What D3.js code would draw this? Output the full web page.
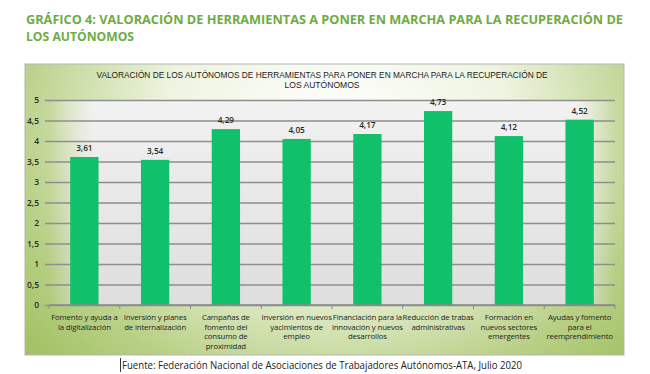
<!DOCTYPE html>
<html>
<head>
<meta charset="utf-8">
<script src="https://cdn.jsdelivr.net/npm/d3@7"></script>
<style>
  html, body { margin: 0; padding: 0; background: #fff; }
  svg { display: block; }
</style>
</head>
<body>
<div id="chart"></div>
<script>
const categories = [
  ['Fomento y ayuda a', 'la digitalización'],
  ['Inversión y planes', 'de internalización'],
  ['Campañas de', 'fomento del', 'consumo de', 'proximidad'],
  ['Inversión en nuevos', 'yacimientos de', 'empleo'],
  ['Financiación para la', 'innovación y nuevos', 'desarrollos'],
  ['Reducción de trabas', 'administrativas'],
  ['Formación en', 'nuevos sectores', 'emergentes'],
  ['Ayudas y fomento', 'para el', 'reemprendimiento']
];
const values = [3.61, 3.54, 4.29, 4.05, 4.17, 4.73, 4.12, 4.52];
const yTicks = [0, 0.5, 1, 1.5, 2, 2.5, 3, 3.5, 4, 4.5, 5];

const pageTitle = ['GRÁFICO 4: VALORACIÓN DE HERRAMIENTAS A PONER EN MARCHA PARA LA RECUPERACIÓN DE', 'LOS AUTÓNOMOS'];
const chartTitle = ['VALORACIÓN DE LOS AUTÓNOMOS DE HERRAMIENTAS PARA PONER EN MARCHA PARA LA RECUPERACIÓN DE', 'LOS AUTÓNOMOS'];
const source = 'Fuente: Federación Nacional de Asociaciones de Trabajadores Autónomos-ATA, Julio 2020';

const width = 650, height = 374;
const panel = { x: 25, y: 64, w: 599, h: 291 };
const plot = { left: 49, right: 615, top: 100, bottom: 305 };
const comma = v => String(v).replace('.', ',');

const svg = d3.select('#chart').append('svg')
  .attr('width', width)
  .attr('height', height);

const defs = svg.append('defs');

// panel background: green edges, pale centre
const panelGrad = defs.append('radialGradient')
  .attr('id', 'panelGrad')
  .attr('cx', '0.52').attr('cy', '0.22').attr('r', '0.72')
  .attr('gradientTransform', 'translate(0.52,0.22) scale(1,1.7) translate(-0.52,-0.22)');
panelGrad.append('stop').attr('offset', '0%').attr('stop-color', '#ffffff');
panelGrad.append('stop').attr('offset', '40%').attr('stop-color', '#eef4e0');
panelGrad.append('stop').attr('offset', '75%').attr('stop-color', '#b8d086');
panelGrad.append('stop').attr('offset', '100%').attr('stop-color', '#9cbe5a');

// plot area: grey fading in from the sides
const plotGrad = defs.append('linearGradient')
  .attr('id', 'plotGrad').attr('x1', 0).attr('x2', 0).attr('y1', 0).attr('y2', 1);
plotGrad.append('stop').attr('offset', '0%').attr('stop-color', '#f2f2f2');
plotGrad.append('stop').attr('offset', '100%').attr('stop-color', '#dedede');

const fadeGrad = defs.append('linearGradient')
  .attr('id', 'fadeGrad').attr('x1', 0).attr('x2', 1).attr('y1', 0).attr('y2', 0);
[[0, 0], [0.08, 1], [0.93, 1], [1, 0]].forEach(([o, a]) => {
  fadeGrad.append('stop').attr('offset', o).attr('stop-color', '#fff').attr('stop-opacity', a);
});
defs.append('mask').attr('id', 'fadeMask')
  .append('rect')
  .attr('x', plot.left).attr('y', plot.top)
  .attr('width', plot.right - plot.left).attr('height', plot.bottom - plot.top)
  .attr('fill', 'url(#fadeGrad)');

// page title
svg.append('g').selectAll('text')
  .data(pageTitle)
  .enter()
  .append('text')
  .attr('x', 26)
  .attr('y', (d, i) => 24 + i * 17)
  .attr('font-family', 'Open Sans, sans-serif')
  .attr('font-weight', 'bold')
  .attr('font-size', 13)
  .attr('fill', '#6eac43')
  .attr('textLength', (d, i) => i === 0 ? 597 : 108)
  .attr('lengthAdjust', 'spacingAndGlyphs')
  .text(d => d);

// chart panel
svg.append('rect')
  .attr('x', panel.x).attr('y', panel.y)
  .attr('width', panel.w).attr('height', panel.h)
  .attr('fill', 'url(#panelGrad)')
  .attr('stroke', '#b5b5b5')
  .attr('stroke-width', 1);

svg.append('rect')
  .attr('x', plot.left).attr('y', plot.top)
  .attr('width', plot.right - plot.left).attr('height', plot.bottom - plot.top)
  .attr('fill', 'url(#plotGrad)')
  .attr('mask', 'url(#fadeMask)');

// chart title
svg.append('g').selectAll('text')
  .data(chartTitle)
  .enter()
  .append('text')
  .attr('x', 322)
  .attr('y', (d, i) => 78 + i * 10)
  .attr('text-anchor', 'middle')
  .attr('font-family', 'Liberation Sans, Arial, sans-serif')
  .attr('font-size', 8.3)
  .attr('fill', '#1a1a1a')
  .attr('textLength', (d, i) => i === 0 ? 451 : 75)
  .attr('lengthAdjust', 'spacingAndGlyphs')
  .text(d => d);

const xScale = d3.scaleBand()
  .domain(d3.range(categories.length))
  .range([plot.left, plot.right])
  .paddingInner(0.6)
  .paddingOuter(0.3);

const yScale = d3.scaleLinear()
  .domain([0, 5])
  .range([plot.bottom, plot.top]);

// gridlines + y axis
const yAxis = d3.axisLeft(yScale)
  .tickValues(yTicks)
  .tickSize(-(plot.right - plot.left + 4))
  .tickPadding(6)
  .tickFormat(comma);

const yG = svg.append('g')
  .attr('class', 'y axis')
  .attr('transform', `translate(${plot.left - 4},0)`)
  .call(yAxis);
yG.select('.domain').remove();
yG.selectAll('.tick line')
  .attr('stroke', '#8e8e8e')
  .attr('stroke-width', 1.4);
yG.selectAll('.tick text')
  .attr('font-family', 'Open Sans, sans-serif')
  .attr('font-size', 8.5)
  .attr('font-weight', 600)
  .attr('fill', '#2a2a2a');

// bars
svg.append('g').selectAll('rect')
  .data(values)
  .enter()
  .append('rect')
  .attr('class', 'bar')
  .attr('x', (d, i) => xScale(i))
  .attr('y', d => yScale(d))
  .attr('width', xScale.bandwidth())
  .attr('height', d => yScale(0) - yScale(d))
  .attr('fill', '#11c06b');

// value labels
svg.append('g').selectAll('text')
  .data(values)
  .enter()
  .append('text')
  .attr('x', (d, i) => xScale(i) + xScale.bandwidth() / 2)
  .attr('y', d => yScale(d) - 6)
  .attr('text-anchor', 'middle')
  .attr('font-family', 'Open Sans, sans-serif')
  .attr('font-size', 8.3)
  .attr('font-weight', 600)
  .attr('fill', '#2a2a2a')
  .text(d => comma(d));

// x axis line and category separators
const sepScale = d3.scaleLinear().domain([0, categories.length]).range([plot.left, plot.right]);
const xG = svg.append('g').attr('class', 'x axis');
xG.append('line')
  .attr('x1', plot.left).attr('x2', plot.right)
  .attr('y1', plot.bottom).attr('y2', plot.bottom)
  .attr('stroke', '#8a8a8a').attr('stroke-width', 1.4);
xG.selectAll('.sep')
  .data(d3.range(categories.length + 1))
  .enter()
  .append('line')
  .attr('class', 'sep')
  .attr('x1', d => sepScale(d)).attr('x2', d => sepScale(d))
  .attr('y1', plot.bottom).attr('y2', plot.bottom + 4)
  .attr('stroke', '#8a8a8a').attr('stroke-width', 1);

// category labels
const labelG = xG.selectAll('.cat')
  .data(categories)
  .enter()
  .append('text')
  .attr('class', 'cat')
  .attr('text-anchor', 'middle')
  .attr('font-family', 'Open Sans, sans-serif')
  .attr('font-size', 7.8)
  .attr('letter-spacing', -0.15)
  .attr('fill', '#1f1f1f');
labelG.selectAll('tspan')
  .data((d, i) => d.map(line => ({ line, i })))
  .enter()
  .append('tspan')
  .attr('x', d => xScale(d.i) + xScale.bandwidth() / 2)
  .attr('y', (d, j) => plot.bottom + 15 + j * 9.7)
  .text(d => d.line);

// source
svg.append('line')
  .attr('x1', 120.5).attr('x2', 120.5)
  .attr('y1', 358).attr('y2', 372)
  .attr('stroke', '#333').attr('stroke-width', 1);
svg.append('text')
  .attr('x', 122)
  .attr('y', 369)
  .attr('font-family', 'Open Sans, sans-serif')
  .attr('font-size', 11)
  .attr('fill', '#222')
  .attr('textLength', 400)
  .attr('lengthAdjust', 'spacingAndGlyphs')
  .text(source);
</script>
</body>
</html>
